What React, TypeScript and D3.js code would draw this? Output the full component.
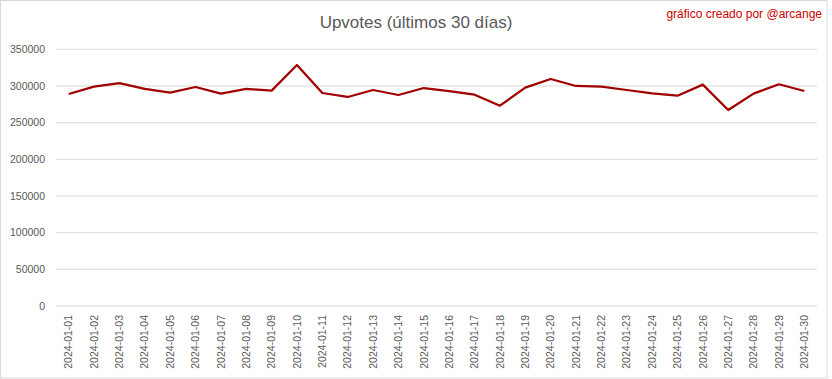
import React from "react";
import * as d3 from "d3";

const dates = [
  "2024-01-01","2024-01-02","2024-01-03","2024-01-04","2024-01-05","2024-01-06","2024-01-07","2024-01-08","2024-01-09","2024-01-10",
  "2024-01-11","2024-01-12","2024-01-13","2024-01-14","2024-01-15","2024-01-16","2024-01-17","2024-01-18","2024-01-19","2024-01-20",
  "2024-01-21","2024-01-22","2024-01-23","2024-01-24","2024-01-25","2024-01-26","2024-01-27","2024-01-28","2024-01-29","2024-01-30",
];
const upvotes = [
  289000, 299000, 304000, 296000, 290800, 298600, 289500, 296000, 293600, 328600,
  290400, 285000, 294500, 287700, 297200, 293100, 288100, 273100, 297700, 309500,
  300000, 299000, 294500, 290000, 286700, 301800, 267200, 289500, 302300, 293100,
];
const yTicks = [0, 50000, 100000, 150000, 200000, 250000, 300000, 350000];
const title = "Upvotes (últimos 30 días)";
const credit = "gráfico creado por @arcange";

const W = 832, H = 379;
const plot = { left: 56, right: 817, top: 49.3, bottom: 306 };
const FONT = "'Liberation Sans', Arial, sans-serif";

export default function App() {
  const x = d3.scaleBand<string>().domain(dates).range([plot.left, plot.right]);
  const y = d3.scaleLinear().domain([0, 350000]).range([plot.bottom, plot.top]);
  const line = d3.line<number>()
    .x((_, i) => (x(dates[i]) as number) + x.bandwidth() / 2)
    .y((d) => y(d));

  return (
    <div style={{ position: "absolute", left: 0, top: 0 }}>
      <svg width={W} height={H} style={{ display: "block", background: "#fff" }}>
        <rect x={0.5} y={0.5} width={826.5} height={H - 1.5} fill="#fff" stroke="#d9d9d9" />
        <text x={416} y={27.5} textAnchor="middle" fontFamily={FONT} fontSize={17} fill="#595959">{title}</text>
        <text x={822} y={18} textAnchor="end" fontFamily={FONT} fontSize={12} fill="#cc0000">{credit}</text>
        {yTicks.map((t) => (
          <g key={t}>
            <line x1={plot.left} x2={plot.right} y1={y(t)} y2={y(t)} stroke="#d9d9d9" strokeWidth={1} />
            <text x={45} y={y(t)} dy="0.35em" textAnchor="end" fontFamily={FONT} fontSize={10.5} fill="#595959">{t}</text>
          </g>
        ))}
        {dates.map((d) => {
          const cx = (x(d) as number) + x.bandwidth() / 2;
          return (
            <text key={d} transform={`translate(${cx},${plot.bottom + 9}) rotate(-90)`} textAnchor="end" dy="0.35em"
              fontFamily={FONT} fontSize={10.5} fill="#595959">{d}</text>
          );
        })}
        <path d={line(upvotes) || ""} fill="none" stroke="#a00000" strokeWidth={2.25} strokeLinejoin="round" />
      </svg>
    </div>
  );
}
